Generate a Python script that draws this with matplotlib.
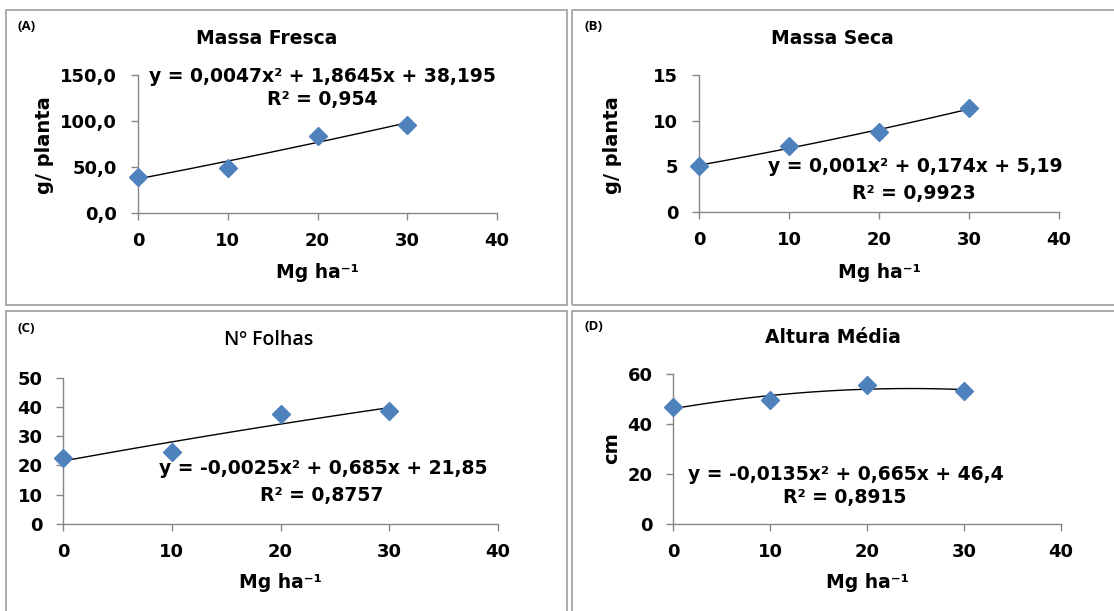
import matplotlib
matplotlib.use("Agg")
import matplotlib.pyplot as plt
from matplotlib.patches import Rectangle
import numpy as np

# doses (Mg ha-1) e valores
x_dose = [0, 10, 20, 30]
massa_fresca = [39.5, 49.2, 84.0, 95.7]
massa_seca = [5.05, 7.24, 8.81, 11.38]
n_folhas = [22.7, 24.6, 37.6, 38.6]
altura = [46.7, 49.7, 55.6, 53.2]

titles = ["Massa Fresca", "Massa Seca", "Nº Folhas", "Altura Média"]
letters = ["(A)", "(B)", "(C)", "(D)"]
ylabels = ["g/ planta", "g/ planta", None, "cm"]
yticks = [[0, 50, 100, 150], [0, 5, 10, 15], [0, 10, 20, 30, 40, 50], [0, 20, 40, 60]]
ytick_labels = [["0,0", "50,0", "100,0", "150,0"], None, None, None]
equations = [
    ("y = 0,0047x² + 1,8645x + 38,195", "R² = 0,954"),
    ("y = 0,001x² + 0,174x + 5,19", "R² = 0,9923"),
    ("y = -0,0025x² + 0,685x + 21,85", "R² = 0,8757"),
    ("y = -0,0135x² + 0,665x + 46,4", "R² = 0,8915"),
]

W, H = 1114, 611
BLUE = "#4F81BD"
GRAY = "#868686"
FONT = "DejaVu Sans"


def fx(px):
    return px / W


def fy(py):
    return 1 - py / H


fig = plt.figure(figsize=(W / 100, H / 100), dpi=100)

# caixas dos painéis (px: esquerda, topo, direita, baixo)
boxes = [(6, 10, 567, 305), (572, 10, 1120, 305), (6, 311, 567, 620), (572, 311, 1120, 620)]
for l, t, r, b in boxes:
    fig.add_artist(Rectangle((fx(l), fy(b)), fx(r - l), (b - t) / H,
                             transform=fig.transFigure, fill=False,
                             edgecolor="#a6a6a6", lw=1.3))

# eixos (px: esquerda, topo, direita, baixo)
axes_px = [(138, 75, 497, 213), (699, 75.3, 1059, 212),
           (63.3, 377.7, 497.7, 524), (673.3, 374, 1061, 524)]
series = [massa_fresca, massa_seca, n_folhas, altura]

title_pos = [(267, 38), (832, 38), (269, 340), (833, 337)]
letter_pos = [(27, 26), (593, 27), (26, 329), (594, 327)]
ylabel_pos = [(45, 145), (612, 145), None, (612, 448)]
eq_pos = [((322, 76), (322, 100)), ((915, 167), (914, 193)),
          ((323, 469), (322, 495)), ((846, 475), (845, 498))]
xlabel_y = [272, 272, 582, 582]

for i in range(4):
    l, t, r, b = axes_px[i]
    ax = fig.add_axes([fx(l), fy(b), fx(r - l), (b - t) / H])
    y = series[i]
    coef = np.polyfit(x_dose, y, 2)
    xs = np.linspace(0, 30, 100)
    ax.plot(xs, np.polyval(coef, xs), color="black", lw=1, zorder=2)
    ax.plot(x_dose, y, ls="none", marker="D", ms=9.5, color=BLUE,
            mec=BLUE, zorder=3, clip_on=False)
    ax.set_xlim(0, 40)
    ax.set_ylim(yticks[i][0], yticks[i][-1])
    ax.set_xticks([0, 10, 20, 30, 40])
    ax.set_yticks(yticks[i])
    if ytick_labels[i]:
        ax.set_yticklabels(ytick_labels[i])
    for s in ["top", "right"]:
        ax.spines[s].set_visible(False)
    for s in ["left", "bottom"]:
        ax.spines[s].set_color(GRAY)
        ax.spines[s].set_linewidth(1)
    ax.tick_params(axis="both", direction="out", length=5, width=1, color=GRAY,
                   labelsize=13)
    ax.tick_params(axis="y", pad=10)
    ax.tick_params(axis="x", pad=9)
    for lab in ax.get_xticklabels() + ax.get_yticklabels():
        lab.set_fontfamily(FONT)
        lab.set_fontweight("bold")
    ax.patch.set_alpha(0)

    # rótulo do eixo x centrado no eixo
    fig.text(fx((l + r) / 2), fy(xlabel_y[i]), "Mg ha⁻¹",
             ha="center", va="center", fontsize=13.5, fontweight="bold",
             family=FONT)
    if ylabels[i]:
        px_, py_ = ylabel_pos[i]
        fig.text(fx(px_), fy(py_), ylabels[i], rotation=90, ha="center",
                 va="center", fontsize=14, fontweight="bold", family=FONT)

    tx, ty = title_pos[i]
    if i == 2:
        fig.text(fx(tx), fy(ty), titles[i], ha="center", va="center",
                 fontsize=14, fontweight="semibold", family="Open Sans")
    else:
        fig.text(fx(tx), fy(ty), titles[i], ha="center", va="center",
                 fontsize=13.5, fontweight="bold", family=FONT)

    lx, ly = letter_pos[i]
    fig.text(fx(lx), fy(ly), letters[i], ha="center", va="center",
             fontsize=9.5, fontweight="bold", family="Open Sans")

    (e1x, e1y), (e2x, e2y) = eq_pos[i]
    fig.text(fx(e1x), fy(e1y), equations[i][0], ha="center", va="center",
             fontsize=13.5, fontweight="bold", family=FONT)
    fig.text(fx(e2x), fy(e2y), equations[i][1], ha="center", va="center",
             fontsize=13.5, fontweight="bold", family=FONT)

fig.savefig("out.png", dpi=100)
